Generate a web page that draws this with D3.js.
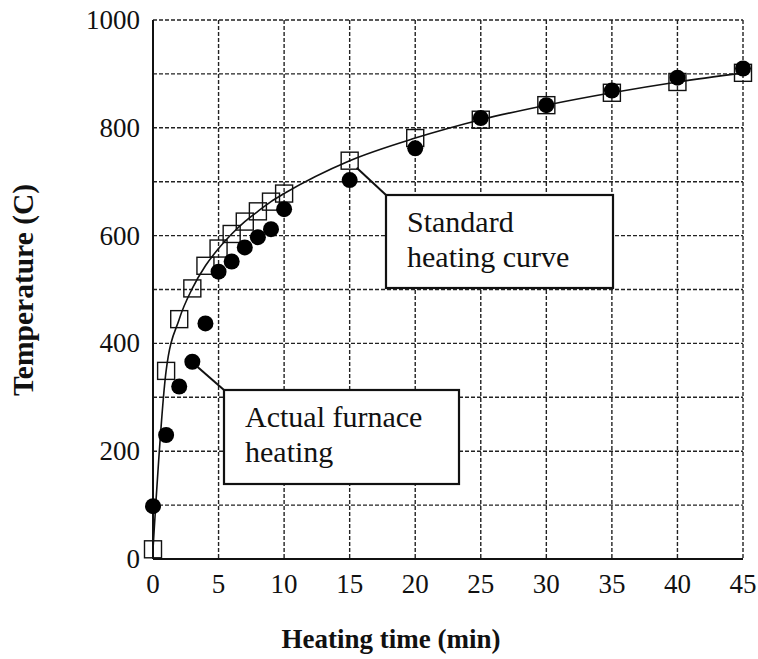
<!DOCTYPE html>
<meta charset="utf-8">
<html>
<head>
<script src="https://d3js.org/d3.v7.min.js"></script>
<style>
  body { margin: 0; background: #fff; }
  svg text { font-family: "Liberation Serif", "DejaVu Serif", serif; fill: #111; }
</style>
</head>
<body>
<div id="chart"></div>
<script>
// Standard heating curve (open squares + line)
var stdTime = [0, 1, 2, 3, 4, 5, 6, 7, 8, 9, 10, 15, 20, 25, 30, 35, 40, 45];
var stdTemp = [18, 349, 445, 502, 544, 576, 603, 626, 645, 663, 678, 739, 781, 815, 842, 865, 885, 902];

// Actual furnace heating (filled circles)
var actTime = [0, 1, 2, 3, 4, 5, 6, 7, 8, 9, 10, 15, 20, 25, 30, 35, 40, 45];
var actTemp = [98, 230, 320, 366, 437, 533, 552, 578, 597, 612, 649, 703, 762, 818, 842, 869, 893, 910];

var xTicks = [0, 5, 10, 15, 20, 25, 30, 35, 40, 45];
var yTicks = [0, 200, 400, 600, 800, 1000];
var yGrid = [100, 200, 300, 400, 500, 600, 700, 800, 900, 1000];

var W = 758, H = 659;
var margin = {top: 20, right: 15, bottom: 100, left: 153};
var width = W - margin.left - margin.right,
    height = H - margin.top - margin.bottom;

var serif = "'Liberation Serif', 'DejaVu Serif', serif";

var svg = d3.select("#chart").append("svg")
  .attr("width", W)
  .attr("height", H);

var g = svg.append("g")
  .attr("transform", "translate(" + margin.left + "," + margin.top + ")");

var x = d3.scaleLinear().domain([0, 45]).range([0, width]);
var y = d3.scaleLinear().domain([0, 1000]).range([height, 0]);

// dashed grid
g.selectAll(".hgrid").data(yGrid).enter().append("line")
  .attr("x1", 0).attr("x2", width)
  .attr("y1", function(d) { return y(d); })
  .attr("y2", function(d) { return y(d); })
  .attr("stroke", "#222").attr("stroke-width", 1.4)
  .attr("stroke-dasharray", "4,2");

g.selectAll(".vgrid").data(xTicks.slice(1)).enter().append("line")
  .attr("y1", 0).attr("y2", height)
  .attr("x1", function(d) { return x(d); })
  .attr("x2", function(d) { return x(d); })
  .attr("stroke", "#222").attr("stroke-width", 1.4)
  .attr("stroke-dasharray", "4,2");

// solid left and bottom axes
g.append("line").attr("x1", 0).attr("x2", 0).attr("y1", 0).attr("y2", height)
  .attr("stroke", "#111").attr("stroke-width", 2);
g.append("line").attr("x1", 0).attr("x2", width).attr("y1", height).attr("y2", height)
  .attr("stroke", "#111").attr("stroke-width", 2);

// tick labels
g.selectAll(".ylab").data(yTicks).enter().append("text")
  .attr("x", -13)
  .attr("y", function(d) { return y(d) + 9; })
  .attr("text-anchor", "end")
  .attr("font-family", serif)
  .style("font-size", "27px")
  .text(function(d) { return d; });

g.selectAll(".xlab").data(xTicks).enter().append("text")
  .attr("x", function(d) { return x(d); })
  .attr("y", height + 34)
  .attr("text-anchor", "middle")
  .attr("font-family", serif)
  .style("font-size", "27px")
  .text(function(d) { return d; });

// axis titles
svg.append("text")
  .attr("x", 391).attr("y", 648)
  .attr("text-anchor", "middle")
  .attr("font-family", serif)
  .style("font-size", "27px").style("font-weight", "bold")
  .text("Heating time (min)");

svg.append("text")
  .attr("transform", "translate(33,290) rotate(-90)")
  .attr("text-anchor", "middle")
  .attr("font-family", serif)
  .style("font-size", "29.5px").style("font-weight", "bold")
  .text("Temperature (C)");

// standard curve line
var stdData = stdTime.map(function(t, i) { return {t: t, v: stdTemp[i]}; });
var actData = actTime.map(function(t, i) { return {t: t, v: actTemp[i]}; });

g.append("path")
  .datum(stdData)
  .attr("fill", "none")
  .attr("stroke", "#111")
  .attr("stroke-width", 1.6)
  .attr("d", d3.line().x(function(d) { return x(d.t); }).y(function(d) { return y(d.v); })
    .curve(d3.curveMonotoneX));

// squares
var sq = 17;
g.selectAll(".sq").data(stdData).enter().append("rect")
  .attr("x", function(d) { return x(d.t) - sq / 2; })
  .attr("y", function(d) { return y(d.v) - sq / 2; })
  .attr("width", sq).attr("height", sq)
  .attr("fill", "none")
  .attr("stroke", "#111").attr("stroke-width", 1.4);

// circles
g.selectAll(".dot").data(actData).enter().append("circle")
  .attr("cx", function(d) { return x(d.t); })
  .attr("cy", function(d) { return y(d.v); })
  .attr("r", 8)
  .attr("fill", "#000");

// annotation boxes with leader lines
function note(px, py, bx, by, bw, bh, lines) {
  g.append("line")
    .attr("x1", px).attr("y1", py).attr("x2", bx).attr("y2", by)
    .attr("stroke", "#111").attr("stroke-width", 2);
  g.append("rect")
    .attr("x", bx).attr("y", by).attr("width", bw).attr("height", bh)
    .attr("fill", "#fff").attr("stroke", "#111").attr("stroke-width", 2.2);
  lines.forEach(function(s, i) {
    g.append("text")
      .attr("x", bx + 21).attr("y", by + 37 + i * 34.5)
      .attr("font-family", serif)
      .style("font-size", "30px")
      .text(s);
  });
}

var s15 = stdData[11], a3 = actData[3];
note(x(s15.t) + 7, y(s15.v) + 7, 233, 175, 227, 93, ["Standard", "heating curve"]);
note(x(a3.t) + 5, y(a3.v) + 5, 71, 370, 235, 94, ["Actual furnace", "heating"]);
</script>
</body>
</html>
